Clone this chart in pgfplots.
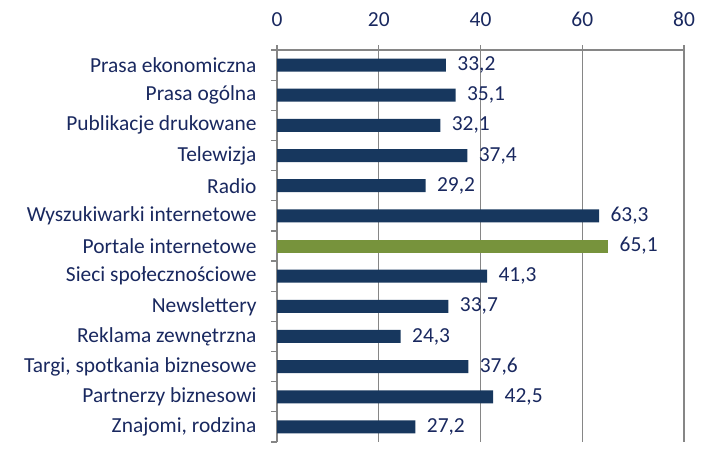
\documentclass[border=0pt]{standalone}
\usepackage{pgfplots}
\pgfplotsset{compat=1.18}
\usepackage{fontspec}
\setmainfont{Carlito}
\usetikzlibrary{calc}
\definecolor{barnavy}{RGB}{23,55,94}
\definecolor{bargreen}{RGB}{119,147,60}
\definecolor{txtnavy}{RGB}{25,40,95}
\definecolor{gridgray}{RGB}{134,134,134}
\begin{document}
\begin{tikzpicture}
\begin{axis}[
    name=ax,
    scale only axis,
    width=407bp, height=392bp,
    xmin=0, xmax=80,
    ymin=-0.5, ymax=12.5,
    y dir=reverse,
    axis x line*=top,
    axis y line*=left,
    axis line style={gridgray, line width=1.2bp},
    xtick={0,20,...,80},
    xmajorgrids,
    grid style={gridgray, line width=1.2bp},
    tick align=outside,
    major tick length=5bp,
    minor tick length=6bp,
    tick style={gridgray, line width=1.2bp},
    ytick={0,...,12},
    minor ytick={-0.5,0.5,...,12.5},
    major y tick style={draw=none},
    yticklabels={Prasa ekonomiczna, Prasa ogólna, Publikacje drukowane, Telewizja, Radio, Wyszukiwarki internetowe, Portale internetowe, Sieci społecznościowe, Newslettery, Reklama zewnętrzna, {Targi, spotkania biznesowe}, Partnerzy biznesowi, {Znajomi, rodzina}},
    ticklabel style={font=\fontsize{21.5}{24}\selectfont, text=txtnavy},
    yticklabel style={xshift=-12bp},
    xticklabel style={yshift=15bp},
    /pgf/number format/assume math mode=true,
    xbar, bar width=13bp, bar shift=0pt,
    nodes near coords,
    nodes near coords style={font=\fontsize{21.5}{24}\selectfont, text=txtnavy, xshift=8bp,
        /pgf/number format/.cd, fixed, fixed zerofill, precision=1, use comma, assume math mode=true},
    clip=false,
]
\addplot[fill=barnavy, draw=none] coordinates {
    (33.2,0) (35.1,1) (32.1,2) (37.4,3) (29.2,4) (63.3,5)
    (41.3,7) (33.7,8) (24.3,9) (37.6,10) (42.5,11) (27.2,12)
};
\addplot[fill=bargreen, draw=none] coordinates {(65.1,6)};
\end{axis}
\path ($(ax.south west)+(-277bp,-22bp)$) rectangle ($(ax.north east)+(29bp,50bp)$);
\end{tikzpicture}
\end{document}
